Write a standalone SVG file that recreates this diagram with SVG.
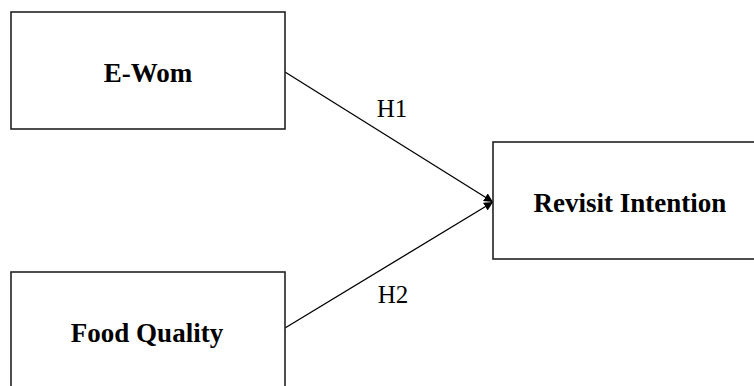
<svg xmlns="http://www.w3.org/2000/svg" width="754" height="386" viewBox="0 0 754 386">
<defs>
<style>
.box{fill:#fff;stroke:#222;stroke-width:1.6}
.t{font-family:"Liberation Serif","Times New Roman",serif;font-weight:bold;font-size:27px;fill:#000;text-anchor:middle}
.lbl{font-family:"Liberation Serif","Times New Roman",serif;font-size:25px;fill:#000;text-anchor:middle}
.ln{stroke:#000;stroke-width:1.3;fill:none;marker-end:url(#ah)}
</style>
<marker id="ah" viewBox="0 0 10 10" refX="10" refY="5" markerWidth="9" markerHeight="9" markerUnits="userSpaceOnUse" orient="auto">
<path d="M0,0 L10,5 L0,10 z" fill="#000"/>
</marker>
</defs>
<rect width="754" height="386" fill="#fff"/>
<g id="connectors">
<line class="ln" x1="285" y1="72" x2="493" y2="202"/>
<line class="ln" x1="285" y1="328" x2="493" y2="202"/>
<text class="lbl" x="392" y="117">H1</text>
<text class="lbl" x="393" y="303">H2</text>
</g>
<g id="ewom">
<rect class="box" x="11" y="12" width="274" height="117"/>
<text class="t" x="148" y="82">E-Wom</text>
</g>
<g id="food-quality">
<rect class="box" x="11" y="272" width="274" height="130"/>
<text class="t" x="147" y="342">Food Quality</text>
</g>
<g id="revisit-intention">
<rect class="box" x="493" y="142" width="280" height="117"/>
<text class="t" x="630" y="212">Revisit Intention</text>
</g>
</svg>
